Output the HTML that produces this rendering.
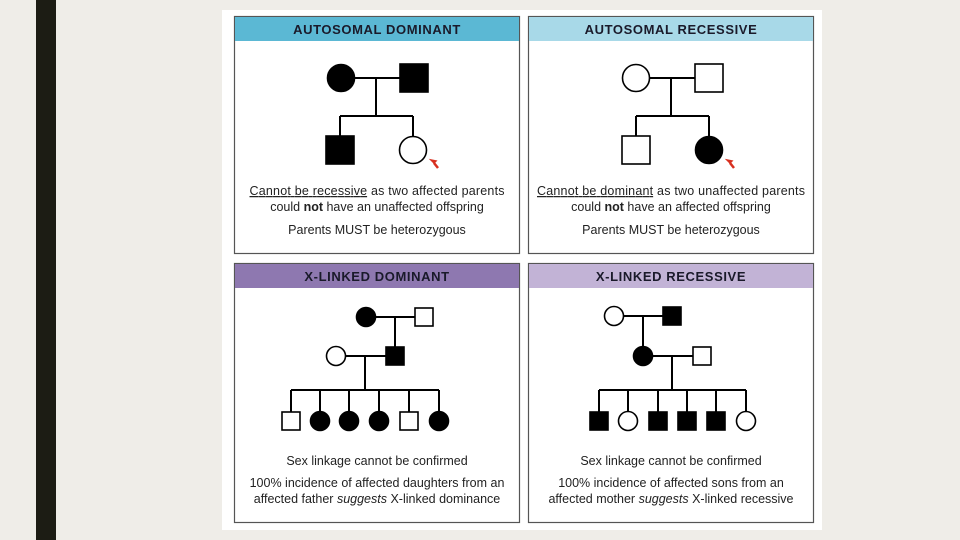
<!DOCTYPE html>
<html><head><style>
body{margin:0;width:960px;height:540px;background:#efede8;overflow:hidden;position:relative;font-family:"Liberation Sans",sans-serif}
svg{position:absolute;left:0;top:0}
</style></head><body>
<svg width="960" height="540" viewBox="0 0 960 540" font-family="Liberation Sans, sans-serif">
<rect x="36" y="0" width="20" height="540" fill="#1c1c14"/>
<rect x="222" y="10" width="600" height="520" fill="#fff"/>
<g stroke="#555" stroke-width="1.2">
<rect x="234.5" y="16.5" width="285" height="237" fill="#fff"/>
<rect x="528.5" y="16.5" width="285" height="237" fill="#fff"/>
<rect x="234.5" y="263.5" width="285" height="259" fill="#fff"/>
<rect x="528.5" y="263.5" width="285" height="259" fill="#fff"/>
</g>
<rect x="235" y="17" width="284" height="24" fill="#5bb8d4"/>
<rect x="529" y="17" width="284" height="24" fill="#a8d9e8"/>
<rect x="235" y="264" width="284" height="24" fill="#8e78b0"/>
<rect x="529" y="264" width="284" height="24" fill="#c2b3d6"/>
<g font-weight="bold" font-size="13" text-anchor="middle" fill="#1a1a2a" letter-spacing="0.6">
<text x="377" y="34">AUTOSOMAL DOMINANT</text>
<text x="671" y="34">AUTOSOMAL RECESSIVE</text>
<text x="377" y="281">X-LINKED DOMINANT</text>
<text x="671" y="281">X-LINKED RECESSIVE</text>
</g>
<g stroke="#000" stroke-width="2" fill="none">
<path d="M341 78H414M376 78V116M340 116H413M340 116V136M413 116V137"/>
<path d="M636 78H709M671 78V116M636 116H709M636 116V136M709 116V137"/>
<path d="M366 317H424M395 317V356M336 356H395M365 356V390M291 390H439M291 390V412M320 390V412M349 390V412M379 390V412M409 390V412M439 390V412"/>
<path d="M614 316H672M643 316V356M643 356H702M672 356V390M599 390H746M599 390V412M628 390V412M658 390V412M687 390V412M716 390V412M746 390V412"/>
</g>
<g stroke="#000" stroke-width="1.6">
<circle cx="341" cy="78" r="13.5" fill="#000"/>
<rect x="400" y="64" width="28" height="28" fill="#000"/>
<rect x="326" y="136" width="28" height="28" fill="#000"/>
<circle cx="413" cy="150" r="13.5" fill="#fff"/>
<circle cx="636" cy="78" r="13.5" fill="#fff"/>
<rect x="695" y="64" width="28" height="28" fill="#fff"/>
<rect x="622" y="136" width="28" height="28" fill="#fff"/>
<circle cx="709" cy="150" r="13.5" fill="#000"/>
<circle cx="366" cy="317" r="9.5" fill="#000"/>
<rect x="415" y="308" width="18" height="18" fill="#fff"/>
<circle cx="336" cy="356" r="9.5" fill="#fff"/>
<rect x="386" y="347" width="18" height="18" fill="#000"/>
<rect x="282" y="412" width="18" height="18" fill="#fff"/>
<circle cx="320" cy="421" r="9.5" fill="#000"/>
<circle cx="349" cy="421" r="9.5" fill="#000"/>
<circle cx="379" cy="421" r="9.5" fill="#000"/>
<rect x="400" y="412" width="18" height="18" fill="#fff"/>
<circle cx="439" cy="421" r="9.5" fill="#000"/>
<circle cx="614" cy="316" r="9.5" fill="#fff"/>
<rect x="663" y="307" width="18" height="18" fill="#000"/>
<circle cx="643" cy="356" r="9.5" fill="#000"/>
<rect x="693" y="347" width="18" height="18" fill="#fff"/>
<rect x="590" y="412" width="18" height="18" fill="#000"/>
<circle cx="628" cy="421" r="9.5" fill="#fff"/>
<rect x="649" y="412" width="18" height="18" fill="#000"/>
<rect x="678" y="412" width="18" height="18" fill="#000"/>
<rect x="707" y="412" width="18" height="18" fill="#000"/>
<circle cx="746" cy="421" r="9.5" fill="#fff"/>
</g>
<g fill="#d83020" stroke="#d83020">
<path d="M431 160l5 1-2 2z" stroke-width="1.5"/>
<path d="M434 163l4 5" stroke-width="2.5"/>
<path d="M727 160l5 1-2 2z" stroke-width="1.5"/>
<path d="M730 163l4 5" stroke-width="2.5"/>
</g>
<g font-size="12.5" text-anchor="middle" fill="#222">
<text x="377" y="195" textLength="255" lengthAdjust="spacing"><tspan text-decoration="underline">Cannot be recessive</tspan> as two affected parents</text>
<text x="377" y="211">could <tspan font-weight="bold">not</tspan> have an unaffected offspring</text>
<text x="377" y="234">Parents MUST be heterozygous</text>
<text x="671" y="195" textLength="268" lengthAdjust="spacing"><tspan text-decoration="underline">Cannot be dominant</tspan> as two unaffected parents</text>
<text x="671" y="211">could <tspan font-weight="bold">not</tspan> have an affected offspring</text>
<text x="671" y="234">Parents MUST be heterozygous</text>
<text x="377" y="465">Sex linkage cannot be confirmed</text>
<text x="377" y="487">100% incidence of affected daughters from an</text>
<text x="377" y="503">affected father <tspan font-style="italic">suggests</tspan> X-linked dominance</text>
<text x="671" y="465">Sex linkage cannot be confirmed</text>
<text x="671" y="487">100% incidence of affected sons from an</text>
<text x="671" y="503">affected mother <tspan font-style="italic">suggests</tspan> X-linked recessive</text>
</g>
</svg>
</body></html>
